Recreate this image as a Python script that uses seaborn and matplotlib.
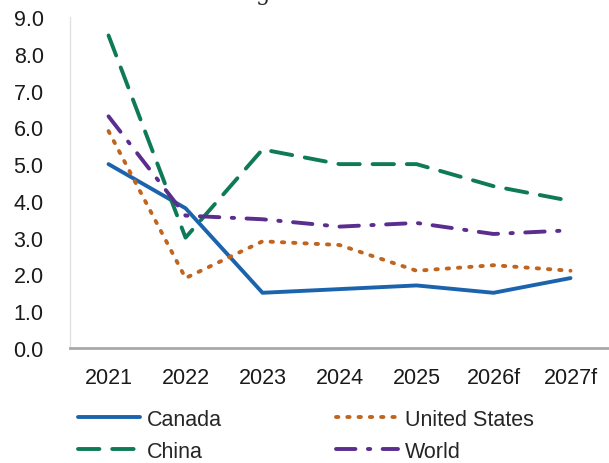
import pandas as pd
import matplotlib
matplotlib.use("Agg")
import matplotlib.pyplot as plt
import seaborn as sns

years = ["2021", "2022", "2023", "2024", "2025", "2026f", "2027f"]
canada = [5.0, 3.8, 1.5, 1.6, 1.7, 1.5, 1.9]
china = [8.5, 3.0, 5.4, 5.0, 5.0, 4.4, 4.0]
united_states = [5.9, 1.9, 2.9, 2.8, 2.1, 2.25, 2.1]
world = [6.3, 3.6, 3.5, 3.3, 3.4, 3.1, 3.2]

series = {"Canada": canada, "China": china,
          "United States": united_states, "World": world}
colors = {"Canada": "#1b64ad", "China": "#0e7a58",
          "United States": "#c0651f", "World": "#5a2d8f"}
dashes = {"Canada": "", "China": (5.5, 3.3),
          "United States": (0.6, 2.3), "World": (5.0, 3.2, 0.6, 3.2)}

rows = []
for name, vals in series.items():
    for yr, v in zip(years, vals):
        rows.append({"Year": yr, "Growth": v, "Series": name})
df = pd.DataFrame(rows)

sns.set_theme(style="white")
plt.rcParams["font.family"] = ["Liberation Sans", "DejaVu Sans"]

fig = plt.figure(figsize=(6.09, 4.64), dpi=100)
ax = fig.add_axes([0.115, 0.248, 0.885, 0.713])

sns.lineplot(data=df, x="Year", y="Growth", hue="Series", style="Series",
             palette=colors, dashes=dashes, linewidth=2.8, sort=False, ax=ax)

for line in ax.get_lines():
    line.set_dash_capstyle("round")

ax.set_xlim(-0.5, 6.5)
ax.set_ylim(0, 9)
ax.set_yticks([i for i in range(10)])
ax.set_yticklabels([f"{i:.1f}" for i in range(10)])
ax.set_xlabel("")
ax.set_ylabel("")
ax.tick_params(axis="both", labelsize=15.5, colors="#1a1a1a", length=0)
ax.tick_params(axis="x", pad=14)
ax.tick_params(axis="y", pad=19)

for s in ["top", "right"]:
    ax.spines[s].set_visible(False)
ax.spines["left"].set_color("#e2e2e2")
ax.spines["left"].set_linewidth(1.0)
ax.spines["bottom"].set_color("#a8a8a8")
ax.spines["bottom"].set_linewidth(2.0)

handles, labels = ax.get_legend_handles_labels()
order = ["Canada", "China", "United States", "World"]
hmap = dict(zip(labels, handles))
ax.legend([hmap[k] for k in order], order, ncol=2, loc="upper left",
          bbox_to_anchor=(78 / 609, 1 - 410 / 464),
          bbox_transform=fig.transFigure, frameon=False, fontsize=15.5,
          handlelength=2.9, handletextpad=0.3, columnspacing=5.3,
          labelspacing=0.5, borderpad=0, borderaxespad=0)

fig.text(0.432, 1.012, "g", family="DejaVu Serif", fontsize=16,
         ha="center", va="center")

fig.savefig("out.png", dpi=100)
